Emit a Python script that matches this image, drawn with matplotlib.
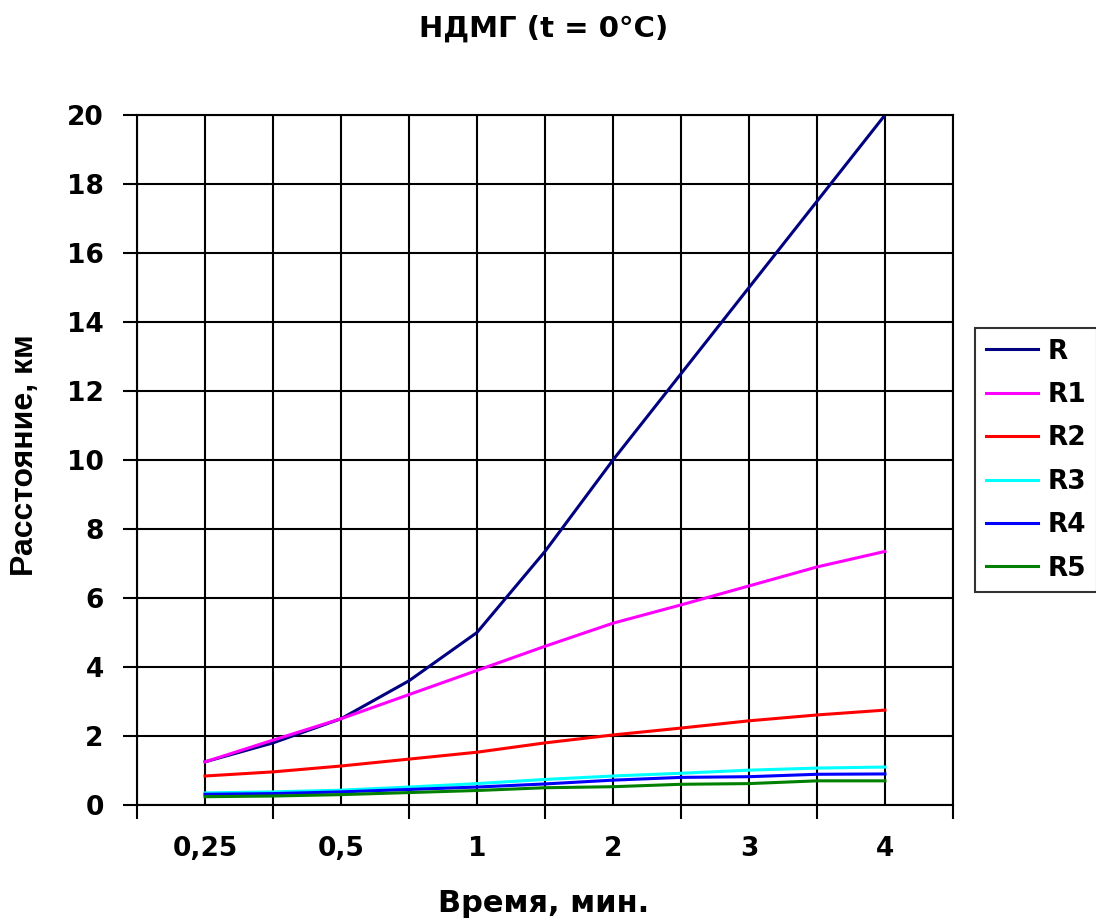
import numpy as np
import matplotlib
matplotlib.use("Agg")
import matplotlib.pyplot as plt

plt.rcParams['font.family'] = ['DejaVu Sans']
plt.rcParams['font.weight'] = 'bold'

# time labels (min) and read-off values, every half category step
labels = ["0,25", "0,5", "1", "2", "3", "4"]
R  = [1.25, 1.8, 2.5, 3.6, 5.0, 7.35, 10.0, 12.5, 15.0, 17.5, 20.0]
R1 = [1.25, 1.88, 2.5, 3.2, 3.9, 4.6, 5.27, 5.8, 6.35, 6.9, 7.35]
R2 = [0.84, 0.96, 1.13, 1.33, 1.53, 1.8, 2.03, 2.23, 2.44, 2.61, 2.75]
R3 = [0.35, 0.38, 0.43, 0.52, 0.62, 0.74, 0.84, 0.92, 1.01, 1.07, 1.1]
R4 = [0.31, 0.33, 0.38, 0.45, 0.52, 0.61, 0.72, 0.8, 0.82, 0.89, 0.9]
R5 = [0.24, 0.26, 0.3, 0.36, 0.42, 0.5, 0.53, 0.6, 0.62, 0.7, 0.7]

series = [("R", R, "#000080"), ("R1", R1, "#FF00FF"), ("R2", R2, "#FF0000"),
          ("R3", R3, "#00FFFF"), ("R4", R4, "#0000FF"), ("R5", R5, "#008000")]

x = np.arange(len(R))

fig = plt.figure(figsize=(10.96, 9.24), dpi=100)
ax = fig.add_axes([0.125, 0.1288, 0.7445, 0.7467])

for name, vals, col in series:
    ax.plot(x, vals, color=col, lw=2.2, label=name)

ax.set_xlim(-1, 11)
ax.set_ylim(0, 20)

# gridlines every half category
ax.set_xticks(np.arange(-1, 12, 2))
ax.set_xticks(np.arange(0, 11, 2), minor=True)
ax.set_xticklabels([])
ax.set_xticklabels(labels, minor=True)
for g in np.arange(-1, 12, 1):
    ax.axvline(g, color='black', lw=1.5, zorder=0)
ax.tick_params(axis='x', which='major', direction='out', length=10, width=1.5)
ax.tick_params(axis='x', which='minor', length=0, pad=22, labelsize=19)

ax.set_yticks(np.arange(0, 21, 2))
ax.yaxis.grid(True, color='black', lw=1.5)
ax.set_axisbelow(True)
ax.tick_params(axis='y', direction='out', length=10, width=1.5, labelsize=19, pad=14)

for s in ax.spines.values():
    s.set_color('black')
    s.set_linewidth(1.5)

fig.text(544 / 1096, 1 - 904 / 924, "Время, мин.", ha='center', va='center',
         fontsize=22, fontweight='bold')
fig.text(25 / 1096, 1 - 455 / 924, "Расстояние, км", ha='center', va='center',
         rotation=90, fontsize=23, fontweight='bold', family='Liberation Sans')
fig.text(544 / 1096, 1 - 29 / 924, "НДМГ (t = 0°C)", ha='center', va='center',
         fontsize=21, fontweight='bold')

leg = fig.legend(loc='upper left', bbox_to_anchor=(975 / 1096, 1 - 328 / 924),
                 borderaxespad=0, fontsize=19,
                 frameon=True, fancybox=False, edgecolor='black',
                 handlelength=2.0, handletextpad=0.35, labelspacing=0.66,
                 borderpad=0.4)
leg.get_frame().set_linewidth(1.5)

fig.savefig("out.png", dpi=100)
